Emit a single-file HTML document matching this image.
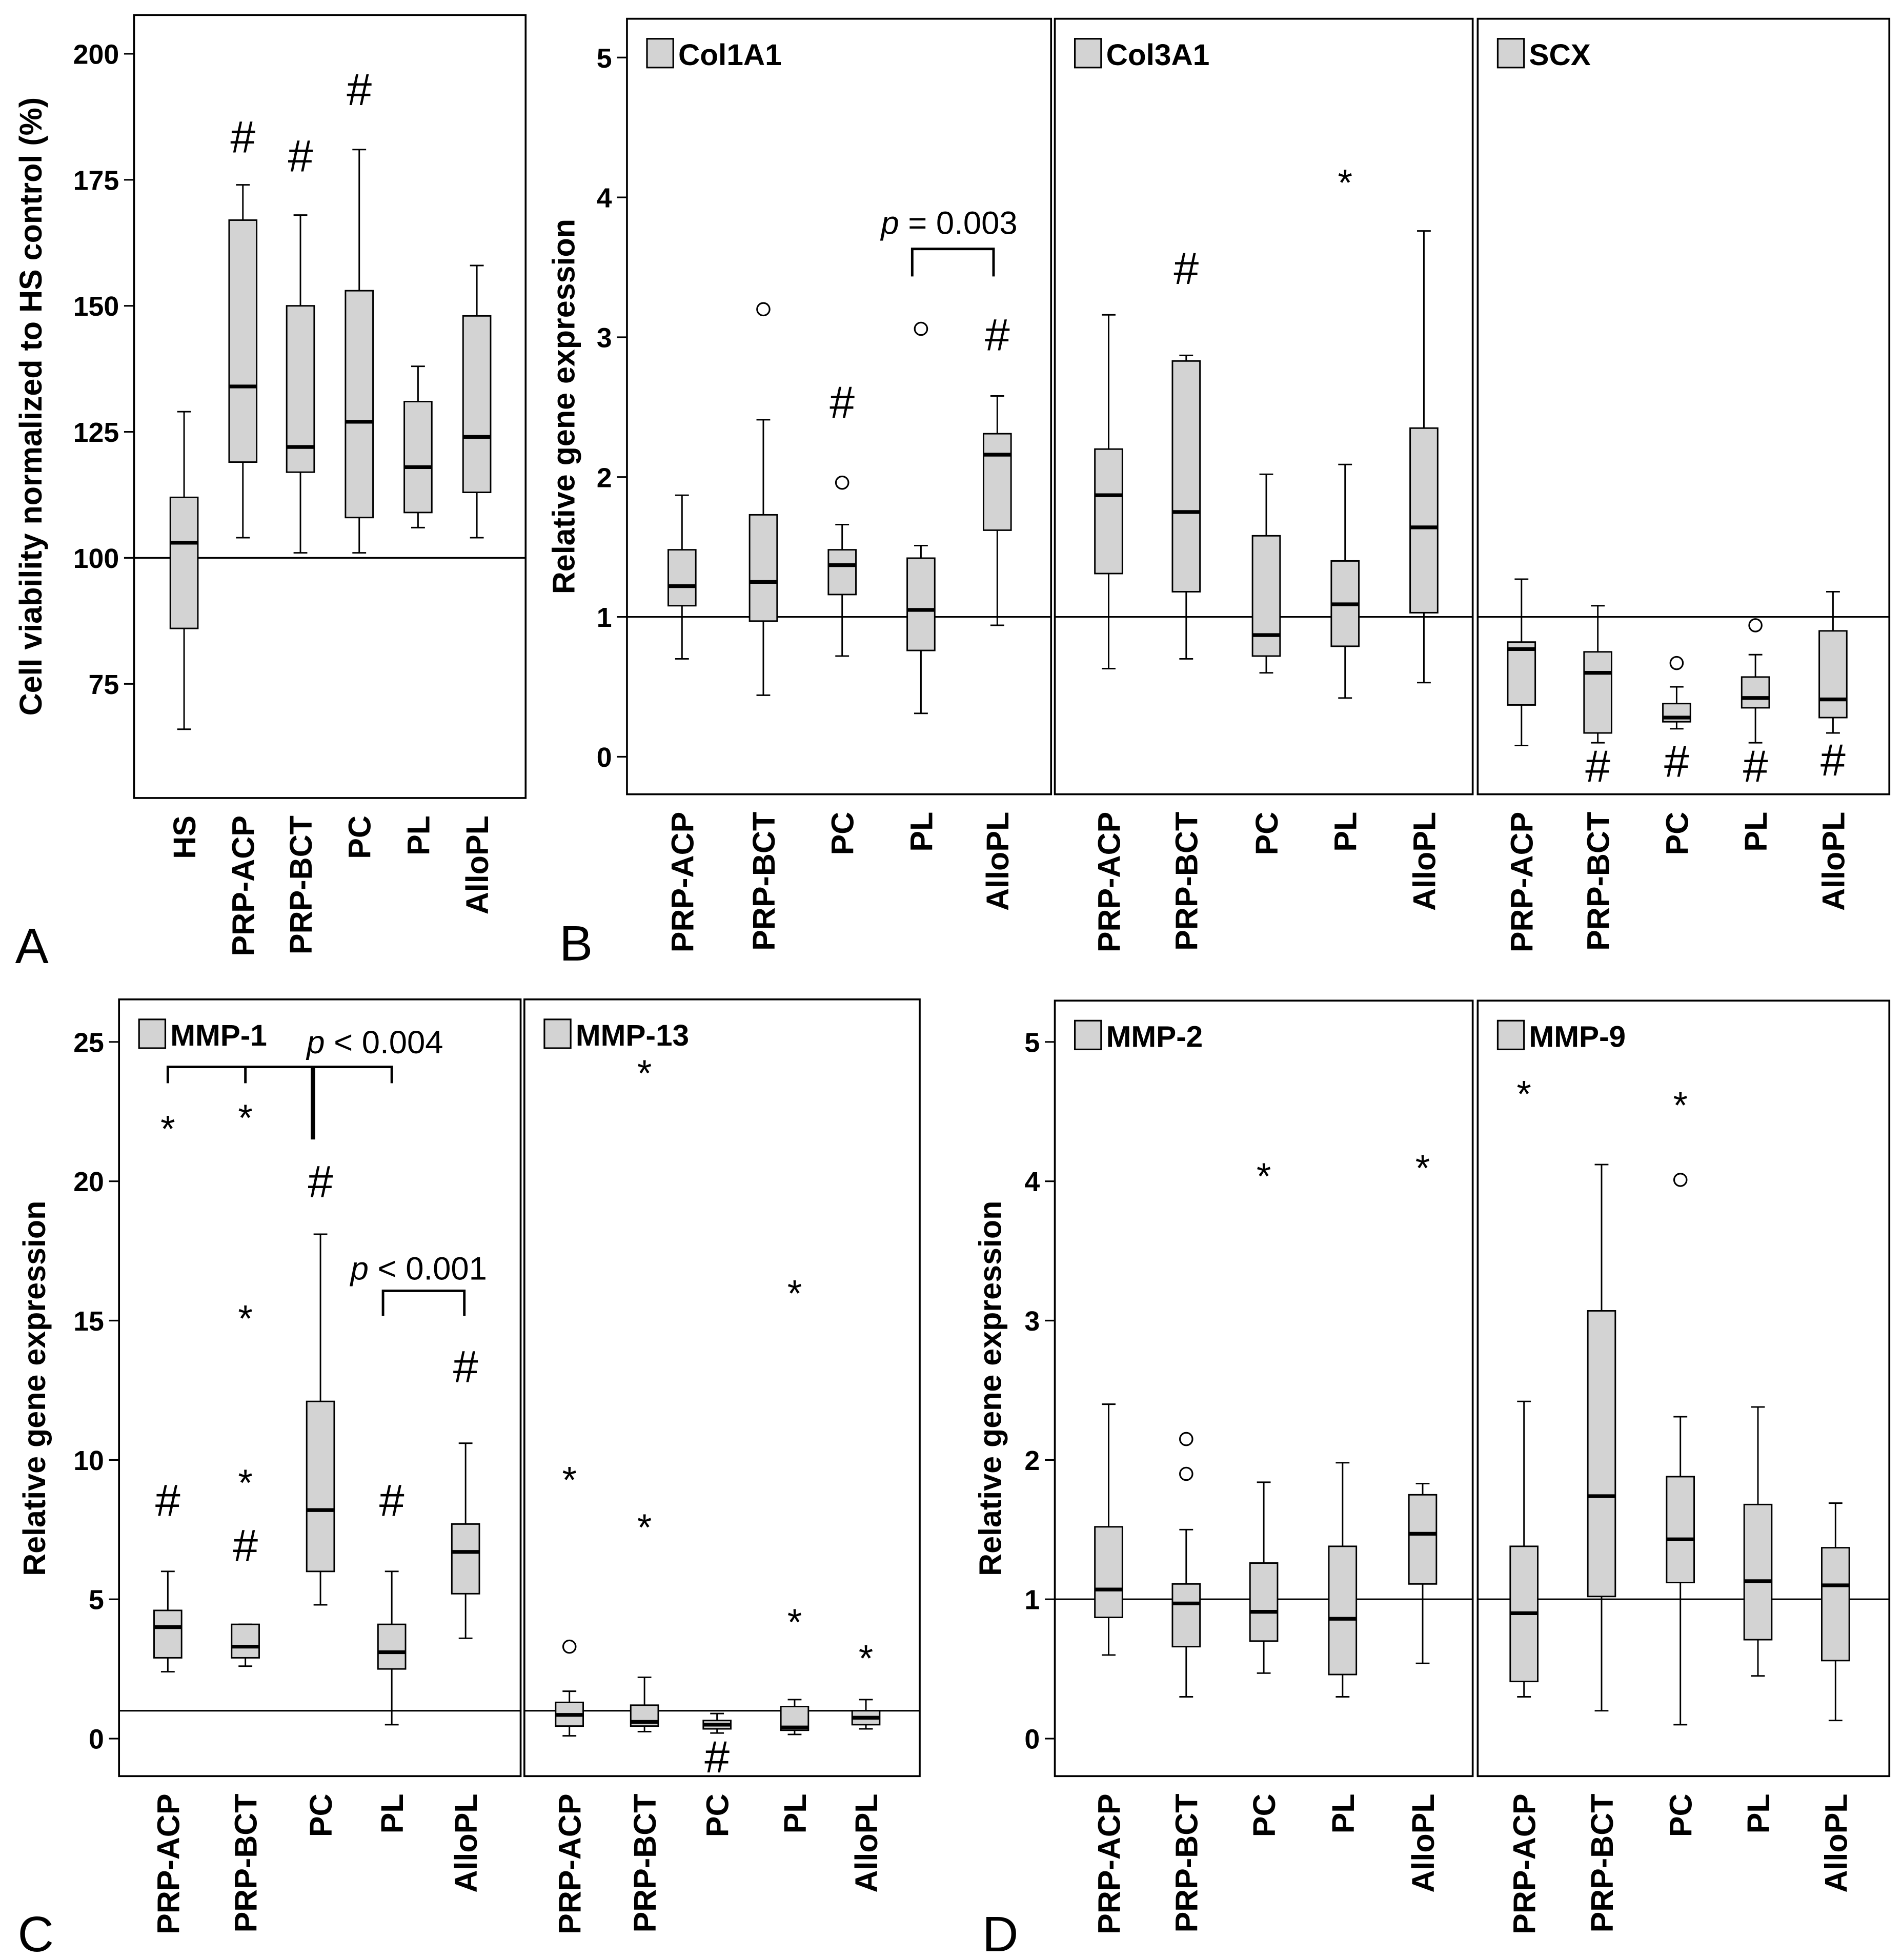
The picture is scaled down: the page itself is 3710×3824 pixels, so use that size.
<!DOCTYPE html>
<html><head><meta charset="utf-8"><style>
html,body{margin:0;padding:0;background:#fff}
svg{display:block}
text{font-family:"Liberation Sans",Arial,sans-serif}
</style></head><body>
<svg id="fig" width="3710" height="3824" viewBox="0 0 1520 1567" xmlns="http://www.w3.org/2000/svg"></svg>
<script>
// ---- DATA: [whiskerLow, q1, median, q3, whiskerHigh]
const catsA = ["HS","PRP-ACP","PRP-BCT","PC","PL","AlloPL"];
const boxesA = [[66,86,103,112,129],[104,119,134,167,174],[101,117,122,150,168],[101,108,127,153,181],[106,109,118,131,138],[104,113,124,148,158]];
const ticksA = [75,100,125,150,175,200];

const cats5 = ["PRP-ACP","PRP-BCT","PC","PL","AlloPL"];
const boxesCol1 = [[0.7,1.08,1.22,1.48,1.87],[0.44,0.97,1.25,1.73,2.41],[0.72,1.16,1.37,1.48,1.66],[0.31,0.76,1.05,1.42,1.51],[0.94,1.62,2.16,2.31,2.58]];
const circCol1 = [[],[3.2],[1.96],[3.06],[]];
const boxesCol3 = [[0.63,1.31,1.87,2.2,3.16],[0.7,1.18,1.75,2.83,2.87],[0.6,0.72,0.87,1.58,2.02],[0.42,0.79,1.09,1.4,2.09],[0.53,1.03,1.64,2.35,3.76]];
const starCol3 = [[],[],[],[4.13],[]];
const boxesSCX = [[0.08,0.37,0.77,0.82,1.27],[0.1,0.17,0.6,0.75,1.08],[0.2,0.25,0.28,0.38,0.5],[0.1,0.35,0.42,0.57,0.73],[0.17,0.28,0.41,0.9,1.18]];
const circSCX = [[],[],[0.67],[0.94],[]];
const ticksB = [0,1,2,3,4,5];

const boxesMMP1 = [[2.4,2.9,4.0,4.6,6.0],[2.6,2.9,3.3,4.1,4.1],[4.8,6.0,8.2,12.1,18.1],[0.5,2.5,3.1,4.1,6.0],[3.6,5.2,6.7,7.7,10.6]];
const starMMP1 = [[22],[22.4,15.2,9.3],[],[],[]];
const boxesMMP13 = [[0.1,0.45,0.85,1.3,1.7],[0.25,0.45,0.6,1.2,2.2],[0.2,0.35,0.5,0.65,0.9],[0.15,0.3,0.4,1.15,1.4],[0.35,0.5,0.75,1.0,1.4]];
const circMMP13 = [[3.3],[],[],[],[]];
const starMMP13 = [[9.4],[24,7.7],[],[16.1,4.3],[3.0]];
const ticksC = [0,5,10,15,20,25];

const boxesMMP2 = [[0.6,0.87,1.07,1.52,2.4],[0.3,0.66,0.97,1.11,1.5],[0.47,0.7,0.91,1.26,1.84],[0.3,0.46,0.86,1.38,1.98],[0.54,1.11,1.47,1.75,1.83]];
const circMMP2 = [[],[1.9,2.15],[],[],[]];
const starMMP2 = [[],[],[4.06],[],[4.12]];
const boxesMMP9 = [[0.3,0.41,0.9,1.38,2.42],[0.2,1.02,1.74,3.07,4.12],[0.1,1.12,1.43,1.88,2.31],[0.45,0.71,1.13,1.68,2.38],[0.13,0.56,1.1,1.37,1.69]];
const circMMP9 = [[],[],[4.01],[],[]];
const starMMP9 = [[4.65],[],[4.57],[],[]];

const NS="http://www.w3.org/2000/svg";
const svg=document.getElementById('fig');
function mk(tag,attrs,parent,txt){const e=document.createElementNS(NS,tag);for(const k in attrs)e.setAttribute(k,attrs[k]);if(txt!==undefined)e.textContent=txt;(parent||svg).appendChild(e);return e;}
function scale(v0,y0,v1,y1){return v=>y0+(v-v0)*(y1-y0)/(v1-v0);}

function panel(o){
  const g=mk('g',{});
  
  
  const fr=mk('rect',{x:o.x0,y:o.y0,width:o.x1-o.x0,height:o.y1-o.y0,fill:'none',stroke:'#000','stroke-width':1.5},g);
  
  
  const y=o.y;
  const rl=mk('line',{x1:o.x0,x2:o.x1,y1:y(o.ref),y2:y(o.ref),stroke:'#000','stroke-width':1.3},g);
  
  
  const bw=o.bw||22;
  o.boxes.forEach((b,i)=>{
    const cx=o.cx[i];
    const bg=mk('g',{},g);
    
    
    mk('line',{x1:cx,x2:cx,y1:y(b[0]),y2:y(b[1]),stroke:'#000','stroke-width':1.2},bg);
    mk('line',{x1:cx,x2:cx,y1:y(b[3]),y2:y(b[4]),stroke:'#000','stroke-width':1.2},bg);
    mk('line',{x1:cx-bw/4,x2:cx+bw/4,y1:y(b[0]),y2:y(b[0]),stroke:'#000','stroke-width':1.2},bg);
    mk('line',{x1:cx-bw/4,x2:cx+bw/4,y1:y(b[4]),y2:y(b[4]),stroke:'#000','stroke-width':1.2},bg);
    mk('rect',{x:cx-bw/2,y:y(b[3]),width:bw,height:y(b[1])-y(b[3]),fill:'#d3d3d3',stroke:'#000','stroke-width':1.2},bg);
    mk('line',{x1:cx-bw/2,x2:cx+bw/2,y1:y(b[2]),y2:y(b[2]),stroke:'#000','stroke-width':3},bg);
    (o.circ&&o.circ[i]||[]).forEach(v=>{const c=mk('circle',{cx:cx,cy:y(v),r:5,fill:'none',stroke:'#000','stroke-width':1.3},bg);});
    (o.star&&o.star[i]||[]).forEach(v=>{const s=mk('text',{x:cx,y:y(v)+13,'font-size':30,'text-anchor':'middle'},bg,'*');});
    const ly=o.y1+14;
    const t=mk('text',{x:cx+9,y:ly,'font-size':25,'font-weight':'bold','text-anchor':'end',transform:`rotate(-90 ${cx+9} ${ly})`},g,o.cats[i]);
    
    
  });
  (o.hash||[]).forEach((h,i)=>{if(h==null)return;const t=mk('text',{x:o.cx[i],y:h+14,'font-size':36,'text-anchor':'middle'},g,'#');});
  if(o.legend){
    const lx=o.x0+16, ly=o.y0+16;
    mk('rect',{x:lx,y:ly,width:21,height:23,fill:'#d3d3d3',stroke:'#000','stroke-width':1.3},g);
    const t=mk('text',{x:lx+25,y:ly+21,'font-size':24,'font-weight':'bold'},g,o.legend);
    
    
  }
  if(o.ticks){
    o.ticks.forEach(v=>{
      mk('line',{x1:o.x0-8,x2:o.x0,y1:y(v),y2:y(v),stroke:'#000','stroke-width':1.3},g);
      const t=mk('text',{x:o.x0-12,y:y(v)+8,'font-size':22,'font-weight':'bold','text-anchor':'end'},g,String(v));
      
      
    });
  }
  return g;
}
function bracket(x1,x2,yt,yb,lbl,tx,ty,name){
  const g=mk('g',{});
  
  
  mk('path',{d:`M${x1} ${yb} V${yt} H${x2} V${yb}`,fill:'none',stroke:'#000','stroke-width':2},g);
  const t=mk('text',{x:tx,y:ty,'font-size':26},g);
  mk('tspan',{'font-style':'italic'},t,'p');
  mk('tspan',{},t,lbl);
  return g;
}
function ylabel(x,yc,s,name){const t=mk('text',{x:x,y:yc,'font-size':25,'font-weight':'bold','text-anchor':'middle',transform:`rotate(-90 ${x} ${yc})`},svg,s);}
function letter(x,y,s){const t=mk('text',{x:x,y:y,'font-size':40},svg,s);}

const yA=scale(100,446,200,43);
panel({name:'panel-a',x0:107,x1:420,y0:12,y1:638,y:yA,ref:100,cats:catsA,cx:[147,194,240,287,334,381],boxes:boxesA,hash:[null,108,123,70,null,null],ticks:ticksA});
ylabel(33,325,'Cell viability normalized to HS control (%)','y-axis-title-a');
letter(12,770,'A');

const yB=scale(0,605,5,46);
panel({name:'panel-b-col1a1',x0:501,x1:840,y0:15,y1:635,y:yB,ref:1,cats:cats5,cx:[545,610,673,736,797],boxes:boxesCol1,circ:circCol1,hash:[null,null,320,null,266],ticks:ticksB,legend:'Col1A1'});
panel({name:'panel-b-col3a1',x0:843,x1:1177,y0:15,y1:635,y:yB,ref:1,cats:cats5,cx:[886,948,1012,1075,1138],boxes:boxesCol3,star:starCol3,hash:[null,213,null,null,null],legend:'Col3A1'});
panel({name:'panel-b-scx',x0:1181,x1:1510,y0:15,y1:635,y:yB,ref:1,cats:cats5,cx:[1216,1277,1340,1403,1465],boxes:boxesSCX,circ:circSCX,hash:[null,611,607,611,606],legend:'SCX'});
bracket(729,794,199,221,' = 0.003',704,187,'p-bracket-col1a1');
ylabel(459,325,'Relative gene expression','y-axis-title-b');
letter(447,768,'B');

const yC=scale(0,1390,25,833);
panel({name:'panel-c-mmp1',x0:95,x1:416,y0:799,y1:1420,y:yC,ref:1,cats:cats5,cx:[134,196,256,313,372],boxes:boxesMMP1,star:starMMP1,hash:[1198,1234,943,1198,1091],ticks:ticksC,legend:'MMP-1'});
panel({name:'panel-c-mmp13',x0:419,x1:735,y0:799,y1:1420,y:yC,ref:1,cats:cats5,cx:[455,515,573,635,692],boxes:boxesMMP13,circ:circMMP13,star:starMMP13,hash:[null,null,1403,null,null],legend:'MMP-13'});
bracket(306,371,1032,1052,' < 0.001',280,1023,'p-bracket-mmp1-pl');
(function(){const g=mk('g',{});
mk('path',{d:'M134 866 V853 H313 V866 M196 853 V866',fill:'none',stroke:'#000','stroke-width':2},g);
mk('line',{x1:250,x2:250,y1:853,y2:911,stroke:'#000','stroke-width':3.5},g);
const t=mk('text',{x:245,y:842,'font-size':26},g);mk('tspan',{'font-style':'italic'},t,'p');mk('tspan',{},t,' < 0.004');})();
ylabel(36,1110,'Relative gene expression','y-axis-title-c');
letter(14,1560,'C');

const yD=scale(0,1390,5,833);
panel({name:'panel-d-mmp2',x0:843,x1:1177,y0:800,y1:1420,y:yD,ref:1,cats:cats5,cx:[886,948,1010,1073,1137],boxes:boxesMMP2,circ:circMMP2,star:starMMP2,ticks:ticksB,legend:'MMP-2'});
panel({name:'panel-d-mmp9',x0:1181,x1:1510,y0:800,y1:1420,y:yD,ref:1,cats:cats5,cx:[1218,1280,1343,1405,1467],boxes:boxesMMP9,circ:circMMP9,star:starMMP9,legend:'MMP-9'});
ylabel(800,1110,'Relative gene expression','y-axis-title-d');
letter(785,1560,'D');
</script>
</body></html>
